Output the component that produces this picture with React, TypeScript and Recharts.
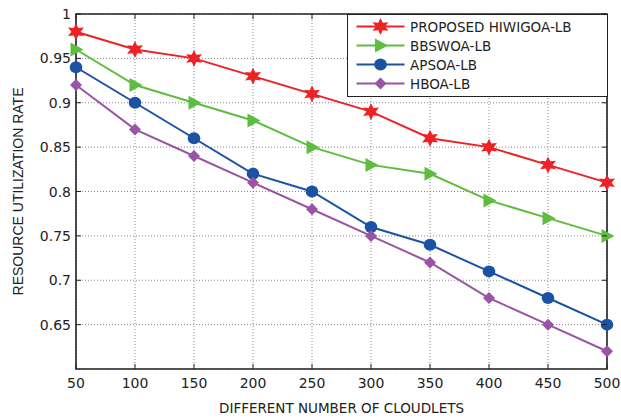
import React from 'react';
import { LineChart, Line, XAxis, YAxis, CartesianGrid, ReferenceArea } from 'recharts';

// x: number of cloudlets
const cloudlets = [50, 100, 150, 200, 250, 300, 350, 400, 450, 500];

// resource utilization rate per method
const proposedHiwigoa = [0.98, 0.96, 0.95, 0.93, 0.91, 0.89, 0.86, 0.85, 0.83, 0.81];
const bbswoa = [0.96, 0.92, 0.9, 0.88, 0.85, 0.83, 0.82, 0.79, 0.77, 0.75];
const apsoa = [0.94, 0.9, 0.86, 0.82, 0.8, 0.76, 0.74, 0.71, 0.68, 0.65];
const hboa = [0.92, 0.87, 0.84, 0.81, 0.78, 0.75, 0.72, 0.68, 0.65, 0.62];

const yTicks = [0.65, 0.7, 0.75, 0.8, 0.85, 0.9, 0.95, 1];

const WIDE = '"DejaVu Sans", sans-serif';
const NARROW = '"Liberation Sans", Arial, sans-serif';
const AXIS = '#222';
const TEXT = '#222';

// plot box edges (from the chart margins below)
const PLOT_TOP = 14;
const PLOT_RIGHT = 607;

type Shape = 'star' | 'triangle' | 'circle' | 'diamond';

const SERIES: { key: string; name: string; color: string; shape: Shape }[] = [
  { key: 'proposed', name: 'PROPOSED HIWIGOA-LB', color: '#ec2227', shape: 'star' },
  { key: 'bbswoa', name: 'BBSWOA-LB', color: '#5ebd3e', shape: 'triangle' },
  { key: 'apsoa', name: 'APSOA-LB', color: '#1b52a4', shape: 'circle' },
  { key: 'hboa', name: 'HBOA-LB', color: '#9a54a6', shape: 'diamond' },
];

const data = cloudlets.map((c, i) => ({
  c,
  proposed: proposedHiwigoa[i],
  bbswoa: bbswoa[i],
  apsoa: apsoa[i],
  hboa: hboa[i],
}));

const Marker = ({ cx, cy, shape, color }: { cx: number; cy: number; shape: Shape; color: string }) => {
  if (cx == null || cy == null) return null;
  if (shape === 'circle') return <ellipse cx={cx} cy={cy} rx={6.3} ry={6} fill={color} />;
  if (shape === 'diamond') {
    return (
      <polygon
        points={`${cx},${cy - 6} ${cx + 6},${cy} ${cx},${cy + 6} ${cx - 6},${cy}`}
        fill={color}
      />
    );
  }
  if (shape === 'triangle') {
    return (
      <polygon
        points={`${cx - 5.5},${cy - 7} ${cx + 7.5},${cy} ${cx - 5.5},${cy + 7}`}
        fill={color}
      />
    );
  }
  // six-pointed star (hexagram)
  const pts: string[] = [];
  for (let i = 0; i < 12; i++) {
    const r = i % 2 === 0 ? 8.5 : 4.3;
    const a = (Math.PI / 6) * i - Math.PI / 2;
    pts.push(`${cx + r * Math.cos(a) * 1.08},${cy + r * Math.sin(a)}`);
  }
  return <polygon points={pts.join(' ')} fill={color} />;
};

// bottom tick: inward mark at bottom and top of the box, label below
const XTick = (props: any) => {
  const { x, y, payload } = props;
  return (
    <g>
      <line x1={x} y1={y} x2={x} y2={y - 5} stroke={AXIS} />
      <line x1={x} y1={PLOT_TOP} x2={x} y2={PLOT_TOP + 5} stroke={AXIS} />
      <text x={x} y={y + 19} textAnchor="middle" fontSize={14} fontFamily={WIDE} fill={TEXT}>
        {payload.value}
      </text>
    </g>
  );
};

// left tick: inward mark at left and right of the box, label to the left
const YTick = (props: any) => {
  const { x, y, payload } = props;
  return (
    <g>
      <line x1={x} y1={y} x2={x + 5} y2={y} stroke={AXIS} />
      <line x1={PLOT_RIGHT} y1={y} x2={PLOT_RIGHT - 5} y2={y} stroke={AXIS} />
      <text x={x - 5} y={y + 5} textAnchor="end" fontSize={14} fontFamily={WIDE} fill={TEXT}>
        {payload.value}
      </text>
    </g>
  );
};

const LegendBox = () => (
  <div
    style={{
      position: 'absolute',
      left: 347,
      top: 14,
      width: 261,
      height: 83,
      border: '1.5px solid #222',
      background: '#fff',
      boxSizing: 'border-box',
      paddingTop: 2,
      fontFamily: WIDE,
      fontSize: 13.5,
      color: TEXT,
    }}
  >
    {SERIES.map((s) => (
      <div key={s.key} style={{ display: 'flex', alignItems: 'center', height: 19 }}>
        <svg width={62} height={19} style={{ flex: 'none' }}>
          <line x1={8.5} y1={9.5} x2={56.5} y2={9.5} stroke={s.color} strokeWidth={2} />
          <Marker cx={32.5} cy={9.5} shape={s.shape} color={s.color} />
        </svg>
        <span style={{ whiteSpace: 'nowrap' }}>{s.name}</span>
      </div>
    ))}
  </div>
);

export default function App() {
  return (
    <div style={{ position: 'absolute', left: 0, top: 0, width: 621, height: 420, background: '#fff' }}>
      <LineChart
        width={621}
        height={420}
        data={data}
        margin={{ top: PLOT_TOP, right: 621 - PLOT_RIGHT, bottom: 21, left: 26 }}
      >
        <CartesianGrid stroke="#888" strokeDasharray="1 2" strokeWidth={1} />
        <XAxis
          dataKey="c"
          type="number"
          domain={[50, 500]}
          ticks={cloudlets}
          height={30}
          tickSize={0}
          tickMargin={0}
          tickLine={false}
          axisLine={false}
          tick={<XTick />}
          label={{
            value: 'DIFFERENT NUMBER OF CLOUDLETS',
            position: 'insideBottom',
            offset: -14,
            style: { fontSize: 13.5, fill: TEXT, fontFamily: WIDE },
          }}
        />
        <YAxis
          type="number"
          domain={[0.6, 1]}
          ticks={yTicks}
          width={50}
          tickSize={0}
          tickMargin={0}
          tickLine={false}
          axisLine={false}
          tick={<YTick />}
          label={{
            value: 'RESOURCE UTILIZATION RATE',
            angle: -90,
            position: 'center',
            dx: -33,
            style: { fontSize: 14, fill: TEXT, fontFamily: NARROW, textAnchor: 'middle' },
          }}
        />
        <ReferenceArea
          x1={50}
          x2={500}
          y1={0.6}
          y2={1}
          fill="none"
          fillOpacity={0}
          stroke={AXIS}
          strokeWidth={1.6}
          strokeOpacity={1}
        />
        {SERIES.map((s) => (
          <Line
            key={s.key}
            dataKey={s.key}
            name={s.name}
            type="linear"
            stroke={s.color}
            strokeWidth={2}
            isAnimationActive={false}
            dot={(p: any) => (
              <Marker key={`${s.key}-${p.index}`} cx={p.cx} cy={p.cy} shape={s.shape} color={s.color} />
            )}
            activeDot={false}
          />
        ))}
      </LineChart>
      <LegendBox />
    </div>
  );
}
